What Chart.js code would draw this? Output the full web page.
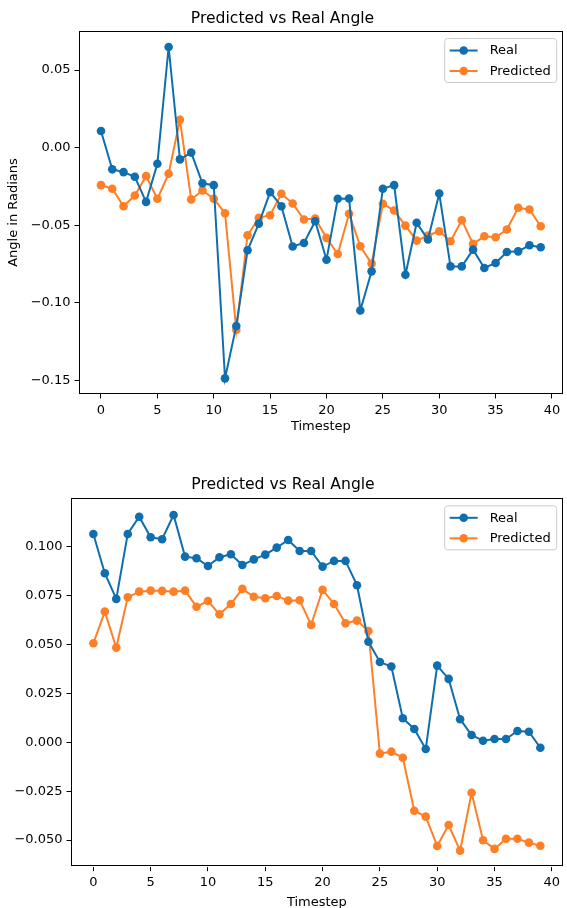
<!DOCTYPE html>
<html>
<head>
<meta charset="utf-8">
<script src="https://cdn.jsdelivr.net/npm/chart.js@4.4.1/dist/chart.umd.min.js"></script>
<style>
html, body { margin: 0; padding: 0; background: #fff; overflow: hidden; }
#wrap { position: relative; width: 567px; height: 908px; }
canvas { position: absolute; left: 0; }
#topChart { top: 0; }
#bottomChart { top: 455px; }
</style>
</head>
<body>
<div id="wrap">
    <canvas id="topChart" width="567" height="450"></canvas>
    <canvas id="bottomChart" width="567" height="455"></canvas>
</div>
<script>
// ===== DATA =====
const timesteps = [0, 1, 2, 3, 4, 5, 6, 7, 8, 9, 10, 11, 12, 13, 14, 15, 16, 17, 18, 19,
    20, 21, 22, 23, 24, 25, 26, 27, 28, 29, 30, 31, 32, 33, 34, 35, 36, 37, 38, 39];
const xTicks = [0, 5, 10, 15, 20, 25, 30, 35, 40];

// top plot
const topReal = [0.0107, -0.0140, -0.0158, -0.0188, -0.0350, -0.0104, 0.0649, -0.0076, -0.0032, -0.0230,
    -0.0242, -0.1488, -0.1150, -0.0662, -0.0490, -0.0287, -0.0378, -0.0638, -0.0615, -0.0475,
    -0.0723, -0.0330, -0.0328, -0.1050, -0.0798, -0.0265, -0.0242, -0.0820, -0.0485, -0.0593,
    -0.0296, -0.0766, -0.0766, -0.0658, -0.0776, -0.0744, -0.0673, -0.0669, -0.0630, -0.0643];
const topPred = [-0.0242, -0.0265, -0.0378, -0.0309, -0.0184, -0.0330, -0.0168, 0.0179, -0.0334, -0.0276,
    -0.0330, -0.0423, -0.1175, -0.0565, -0.0453, -0.0436, -0.0298, -0.0360, -0.0464, -0.0457,
    -0.0582, -0.0686, -0.0427, -0.0636, -0.0748, -0.0362, -0.0406, -0.0503, -0.0600, -0.0567,
    -0.0539, -0.0604, -0.0468, -0.0621, -0.0572, -0.0578, -0.0528, -0.0388, -0.0399, -0.0507];
const topYTicks = [-0.15, -0.10, -0.05, 0, 0.05];

// bottom plot
const bottomReal = [0.1065, 0.0864, 0.0733, 0.1065, 0.1153, 0.1048, 0.1038, 0.1162, 0.0949, 0.0941,
    0.0901, 0.0946, 0.0961, 0.0906, 0.0935, 0.0959, 0.0995, 0.1034, 0.0978, 0.0978,
    0.0898, 0.0927, 0.0927, 0.0803, 0.0514, 0.0410, 0.0387, 0.0123, 0.0068, -0.0034,
    0.0392, 0.0324, 0.0118, 0.0037, 0.0008, 0.0017, 0.0017, 0.0058, 0.0054, -0.0028];
const bottomPred = [0.0506, 0.0668, 0.0484, 0.0741, 0.0770, 0.0775, 0.0774, 0.0770, 0.0775, 0.0693,
    0.0722, 0.0654, 0.0707, 0.0784, 0.0744, 0.0736, 0.0748, 0.0724, 0.0726, 0.0600,
    0.0779, 0.0707, 0.0608, 0.0622, 0.0569, -0.0058, -0.0048, -0.0079, -0.0350, -0.0380,
    -0.0530, -0.0423, -0.0554, -0.0258, -0.0501, -0.0545, -0.0493, -0.0493, -0.0513, -0.0529];
const bottomYTicks = [-0.05, -0.025, 0, 0.025, 0.05, 0.075, 0.1];

const BLUE = '#0f6eae';
const ORANGE = '#ff7f27';
const FONT = 'DejaVu Sans';

Chart.defaults.font.family = FONT;
Chart.defaults.color = '#000';

// ===== PLUGINS =====
// matplotlib style frame around the axes + legend box in upper right
const framePlugin = {
    id: 'frame',
    afterDatasetsDraw(chart) {
        const { ctx, chartArea: a } = chart;
        ctx.save();
        ctx.strokeStyle = '#000';
        ctx.lineWidth = 1;
        ctx.strokeRect(Math.round(a.left) + 0.5, Math.round(a.top) + 0.5,
            Math.round(a.right - a.left) - 1, Math.round(a.bottom - a.top) - 1);
        ctx.restore();
    },
    afterDraw(chart) {
        const { ctx, chartArea: a } = chart;
        const sets = chart.data.datasets;
        ctx.save();
        ctx.font = '13px "' + FONT + '"';
        let textW = 0;
        sets.forEach(d => { textW = Math.max(textW, ctx.measureText(d.label).width); });
        const w = 45 + textW + 6;
        const h = 44;
        const x = a.right - 6 - w;
        const y = a.top + 7.5;
        // box
        ctx.beginPath();
        ctx.roundRect(x, y, w, h, 3);
        ctx.fillStyle = 'rgba(255,255,255,0.8)';
        ctx.fill();
        ctx.strokeStyle = '#cccccc';
        ctx.lineWidth = 1;
        ctx.stroke();
        sets.forEach((d, i) => {
            const cy = y + 12 + i * 20.5;
            ctx.strokeStyle = d.borderColor;
            ctx.lineWidth = 2;
            ctx.beginPath();
            ctx.moveTo(x + 5, cy);
            ctx.lineTo(x + 33, cy);
            ctx.stroke();
            ctx.fillStyle = d.borderColor;
            ctx.beginPath();
            ctx.arc(x + 19, cy, 4.3, 0, Math.PI * 2);
            ctx.fill();
            ctx.fillStyle = '#000';
            ctx.textBaseline = 'middle';
            ctx.textAlign = 'left';
            ctx.fillText(d.label, x + 45, cy + 0.5);
        });
        ctx.restore();
    }
};

// ===== CHARTS =====
function series(values) {
    return values.map((v, i) => ({ x: timesteps[i], y: v }));
}

function fmt(dec) {
    return v => (v < 0 ? '\u2212' : '') + Math.abs(v).toFixed(dec);
}

function makeChart(id, o) {
    const tickGrid = { drawOnChartArea: false, drawTicks: true, tickLength: 4.5, color: '#000', lineWidth: 1 };
    return new Chart(document.getElementById(id), {
        type: 'line',
        data: {
            datasets: [
                {
                    label: 'Real',
                    data: series(o.real),
                    borderColor: BLUE,
                    backgroundColor: BLUE,
                    pointBackgroundColor: BLUE,
                    borderWidth: 2,
                    pointRadius: 4.3,
                    pointBorderWidth: 0,
                    tension: 0
                },
                {
                    label: 'Predicted',
                    data: series(o.pred),
                    borderColor: ORANGE,
                    backgroundColor: ORANGE,
                    pointBackgroundColor: ORANGE,
                    borderWidth: 2,
                    pointRadius: 4.3,
                    pointBorderWidth: 0,
                    tension: 0
                }
            ]
        },
        options: {
            responsive: false,
            animation: false,
            devicePixelRatio: 1,
            layout: { padding: { left: 0, top: 0, right: o.padRight, bottom: 0 } },
            plugins: {
                legend: { display: false },
                tooltip: { enabled: false },
                title: {
                    display: true,
                    text: 'Predicted vs Real Angle',
                    color: '#000',
                    font: { size: 15.6, weight: 'normal' },
                    padding: o.titlePad
                }
            },
            scales: {
                x: {
                    type: 'linear',
                    min: -1.95, max: 40.95,
                    afterBuildTicks: s => { s.ticks = xTicks.map(v => ({ value: v })); },
                    afterFit: s => { s.height = o.xHeight; },
                    ticks: { color: '#000', font: { size: 13 }, padding: 4, maxRotation: 0, callback: v => String(v) },
                    grid: tickGrid,
                    border: { display: false },
                    title: {
                        display: true, text: 'Timestep', color: '#000',
                        font: { size: 13 }, padding: { top: 0, bottom: o.xTitlePad }
                    }
                },
                y: {
                    type: 'linear',
                    min: o.yMin, max: o.yMax,
                    afterBuildTicks: s => { s.ticks = o.yTicks.map(v => ({ value: v })); },
                    afterFit: s => { s.width = o.yWidth; },
                    ticks: { color: '#000', font: { size: 13 }, padding: 4, callback: fmt(o.dec) },
                    grid: tickGrid,
                    border: { display: false },
                    title: {
                        display: !!o.yTitle, text: o.yTitle || '', color: '#000',
                        font: { size: 13 }, padding: { top: 6.2, bottom: 0 }
                    }
                }
            }
        },
        plugins: [framePlugin]
    });
}

makeChart('topChart', {
    real: topReal, pred: topPred,
    yMin: -0.1589, yMax: 0.0752, yTicks: topYTicks, dec: 2,
    yWidth: 79, xHeight: 56, padRight: 2,
    titlePad: { top: 9.6, bottom: 2.7 },
    xTitlePad: 15.2,
    yTitle: 'Angle in Radians'
});

makeChart('bottomChart', {
    real: bottomReal, pred: bottomPred,
    yMin: -0.0636, yMax: 0.1247, yTicks: bottomYTicks, dec: 3,
    yWidth: 71, xHeight: 43.3, padRight: 1,
    titlePad: { top: 20.6, bottom: 4 },
    xTitlePad: 0,
    yTitle: null
});
</script>
</body>
</html>
